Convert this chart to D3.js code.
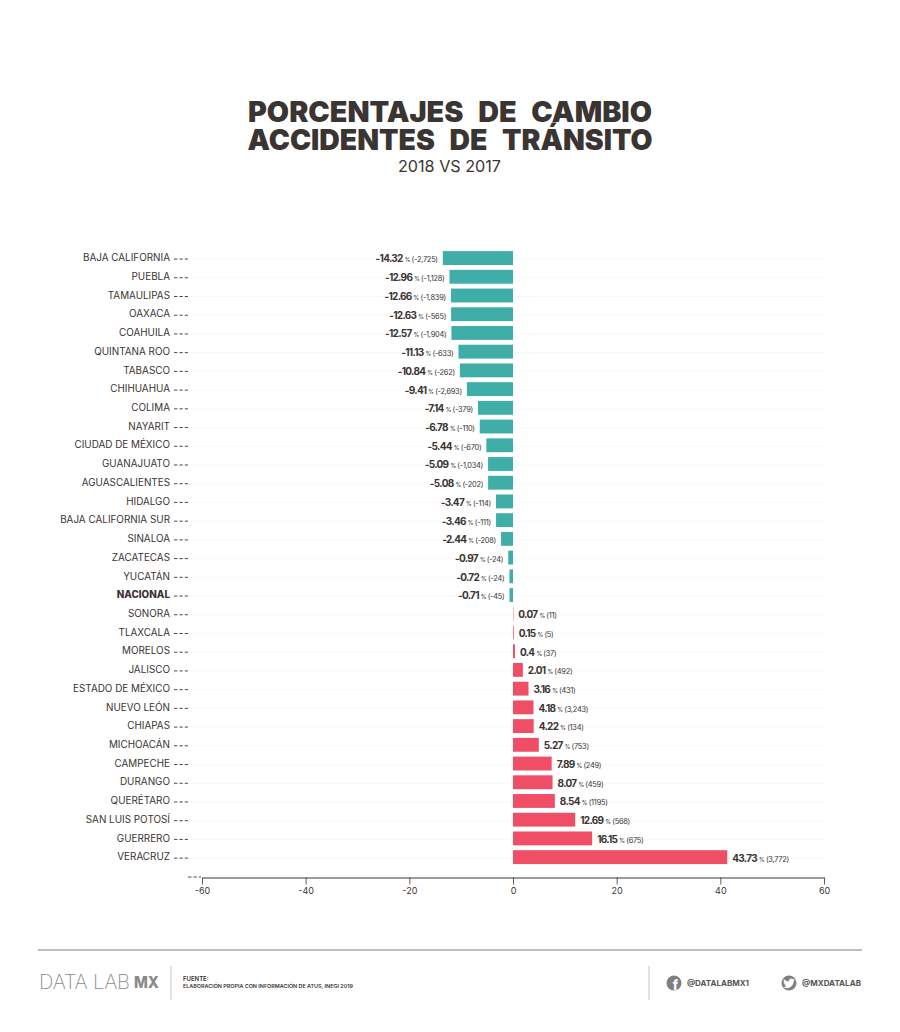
<!DOCTYPE html>
<html><head><meta charset="utf-8">
<script src="https://cdnjs.cloudflare.com/ajax/libs/d3/7.8.5/d3.min.js"></script>
<style>
html,body{margin:0;padding:0;background:#fff}
svg{display:block}
text{font-family:Inter,"Noto Sans",sans-serif;fill:#3a3432}
</style></head><body>
<svg id="chart" width="900" height="1032"></svg>
<script>
const categories=["BAJA CALIFORNIA","PUEBLA","TAMAULIPAS","OAXACA","COAHUILA","QUINTANA ROO","TABASCO","CHIHUAHUA","COLIMA","NAYARIT","CIUDAD DE MÉXICO","GUANAJUATO","AGUASCALIENTES","HIDALGO","BAJA CALIFORNIA SUR","SINALOA","ZACATECAS","YUCATÁN","NACIONAL","SONORA","TLAXCALA","MORELOS","JALISCO","ESTADO DE MÉXICO","NUEVO LEÓN","CHIAPAS","MICHOACÁN","CAMPECHE","DURANGO","QUERÉTARO","SAN LUIS POTOSÍ","GUERRERO","VERACRUZ"];
const percentChange=[-14.32,-12.96,-12.66,-12.63,-12.57,-11.13,-10.84,-9.41,-7.14,-6.78,-5.44,-5.09,-5.08,-3.47,-3.46,-2.44,-0.97,-0.72,-0.71,0.07,0.15,0.4,2.01,3.16,4.18,4.22,5.27,7.89,8.07,8.54,12.69,16.15,43.73];
const absoluteChange=["-2,725","-1,128","-1,839","-565","-1,904","-633","-262","-2,693","-379","-110","-670","-1,034","-202","-114","-111","-208","-24","-24","-45","11","5","37","492","431","3,243","134","753","249","459","1195","568","675","3,772"];
const axisTicks=[-60,-40,-20,0,20,40,60];
const titleLines=["PORCENTAJES DE CAMBIO","ACCIDENTES DE TRÁNSITO"];
const subtitle="2018 VS 2017";

const svg=d3.select("#chart");
const ink="#3a3432";
// titles
svg.selectAll(".t").data(titleLines).join("text").attr("class","t")
  .attr("x",450).attr("y",(d,i)=>[121.5,150][i]).attr("text-anchor","middle")
  .attr("font-size",28.5).attr("font-weight",900).style("word-spacing","9px")
  .attr("textLength",(d,i)=>[404,405][i]).attr("lengthAdjust","spacingAndGlyphs").text(d=>d);
svg.append("text").attr("x",449.5).attr("y",172).attr("text-anchor","middle").attr("font-size",16).attr("font-weight",400).attr("textLength",103).attr("lengthAdjust","spacingAndGlyphs").text(subtitle);

const y=d3.scaleBand().domain(categories).range([248.7,866.5]).paddingInner(0.26).paddingOuter(0.13);
const axisX=d3.scaleLinear().domain([-60,60]).range([202,824]);
// bars are drawn shorter than the axis in the source graphic
const barX=d3.scaleLinear().domain([-60,60]).range([513-294,513+294]);
const rows=categories.map((c,i)=>({c,v:percentChange[i],n:absoluteChange[i]}));
const cy=d=>y(d.c)+y.bandwidth()/2;

// faint grid
svg.append("g").selectAll("line").data(rows).join("line")
  .attr("x1",190).attr("x2",824).attr("y1",d=>cy(d)+1).attr("y2",d=>cy(d)+1)
  .attr("stroke","#ececec").attr("stroke-width",0.7).attr("stroke-dasharray","1 1");
// dashes
svg.append("g").selectAll("line").data(rows).join("line")
  .attr("x1",174).attr("x2",188).attr("y1",d=>cy(d)+1).attr("y2",d=>cy(d)+1)
  .attr("stroke",ink).attr("stroke-width",0.9).attr("stroke-dasharray","3.4 2");
// bars
svg.append("g").selectAll("rect").data(rows).join("rect")
  .attr("x",d=>Math.min(barX(d.v),barX(0))).attr("width",d=>Math.abs(barX(d.v)-barX(0)))
  .attr("y",d=>y(d.c)).attr("height",y.bandwidth())
  .attr("fill",d=>d.v<0?"#3fada8":"#f04e66");
// category labels
svg.append("g").selectAll("text").data(rows).join("text")
  .attr("x",170).attr("y",d=>cy(d)+3.2).attr("text-anchor","end")
  .attr("font-size",9.9).attr("font-weight",d=>d.c==="NACIONAL"?800:400).text(d=>d.c);
// value labels
const vl=svg.append("g").selectAll("text").data(rows).join("text")
  .attr("x",d=>d.v<0?barX(d.v)-5:barX(d.v)+5)
  .attr("y",d=>cy(d)+4.4)
  .attr("text-anchor",d=>d.v<0?"end":"start");
vl.append("tspan").attr("font-size",10).attr("font-weight",700).attr("letter-spacing",-0.7).text(d=>d.v);
vl.append("tspan").attr("font-size",5.8).attr("dx",2).text("%");
vl.append("tspan").attr("font-size",7.4).attr("dx",1.2).attr("letter-spacing",-0.25).text(d=>`(${d.n})`);

// axis
const ax=svg.append("g").attr("transform","translate(0,877.5)")
  .call(d3.axisBottom(axisX).tickValues(axisTicks).tickSize(7).tickSizeOuter(0).tickFormat(d=>d));
ax.select(".domain").attr("stroke",ink).attr("stroke-width",1);
ax.selectAll(".tick line").attr("stroke",ink).attr("stroke-width",0.8);
ax.selectAll("text").attr("font-size",9).attr("y",10).attr("dy","0.71em").style("font-family","Inter").attr("fill",ink);
svg.append("line").attr("x1",188).attr("x2",201).attr("y1",877).attr("y2",877).attr("stroke",ink).attr("stroke-width",0.9).attr("stroke-dasharray","3.4 2");

// footer
svg.append("line").attr("x1",38).attr("x2",862).attr("y1",950).attr("y2",950).attr("stroke","#a9a9a9").attr("stroke-width",1.4);
[171,649].forEach(x=>svg.append("line").attr("x1",x).attr("x2",x).attr("y1",966).attr("y2",1000).attr("stroke","#c4c4c4").attr("stroke-width",1));
svg.append("text").attr("x",39).attr("y",988.5).attr("font-size",20).attr("font-weight",200).style("fill","#8a8a8a").attr("textLength",91).attr("lengthAdjust","spacing").text("DATA LAB");
svg.append("text").attr("x",134).attr("y",987.5).attr("font-size",16).attr("font-weight",800).style("fill","#8a8a8a").attr("textLength",25).attr("lengthAdjust","spacingAndGlyphs").text("MX");
svg.append("text").attr("x",183).attr("y",981).attr("font-size",6).attr("font-weight",600).text("FUENTE:");
svg.append("text").attr("x",183).attr("y",988).attr("font-size",5.4).attr("font-weight",600).attr("textLength",170).attr("lengthAdjust","spacingAndGlyphs").text("ELABORACIÓN PROPIA CON INFORMACIÓN DE ATUS, INEGI 2019");

const iconC="#7f7f7f";
svg.append("circle").attr("cx",674).attr("cy",983).attr("r",7.5).attr("fill",iconC);
svg.append("text").attr("x",675.5).attr("y",989.5).attr("text-anchor","middle").attr("font-size",13).attr("font-weight",800).style("fill","#fff").text("f");
svg.append("circle").attr("cx",789).attr("cy",983).attr("r",7.5).attr("fill",iconC);
svg.append("path").attr("transform","translate(783.1,977.5) scale(0.49)").attr("fill","#fff")
  .attr("d","M23.95 4.57a10 10 0 01-2.82.77 4.96 4.96 0 002.16-2.72c-.95.55-2 .95-3.12 1.17a4.92 4.92 0 00-8.38 4.48C7.69 8.1 4.07 6.13 1.64 3.16a4.82 4.82 0 00-.67 2.48c0 1.71.87 3.21 2.19 4.1a4.9 4.9 0 01-2.23-.61v.06c0 2.39 1.7 4.38 3.95 4.83a5 5 0 01-2.21.08 4.94 4.94 0 004.6 3.42A9.87 9.87 0 010 19.54a14 14 0 007.56 2.21c9.05 0 14-7.5 14-13.98 0-.21 0-.42-.02-.63a9.94 9.94 0 002.46-2.55z");
svg.append("text").attr("x",687).attr("y",986).attr("font-size",7.6).attr("font-weight",700).style("fill","#555").attr("textLength",62).attr("lengthAdjust","spacingAndGlyphs").text("@DATALABMX1");
svg.append("text").attr("x",802).attr("y",986).attr("font-size",7.6).attr("font-weight",700).style("fill","#555").attr("textLength",59).attr("lengthAdjust","spacingAndGlyphs").text("@MXDATALAB");
</script>
</body></html>
